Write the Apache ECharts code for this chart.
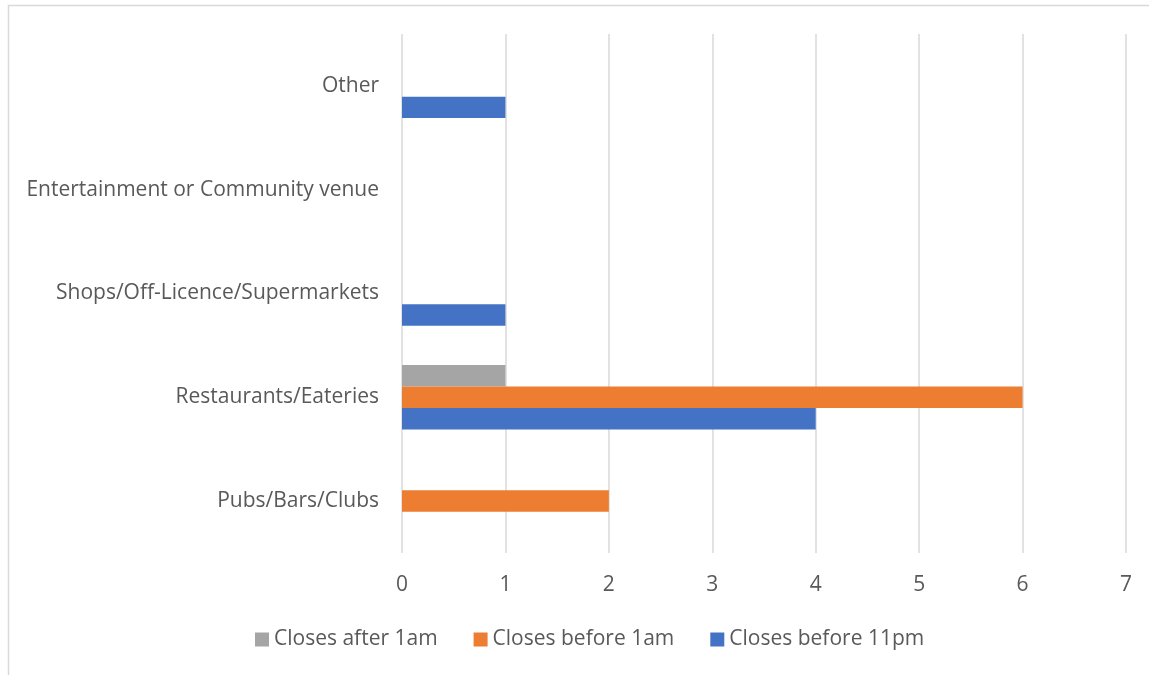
<!DOCTYPE html>
<html>
<head>
<meta charset="utf-8">
<style>
  html, body { margin: 0; padding: 0; background: #ffffff; }
  #chart { width: 1149px; height: 675px; }
</style>
<script src="https://cdn.jsdelivr.net/npm/echarts@6/dist/echarts.min.js"></script>
</head>
<body>
<div id="chart"></div>
<script>
// Venue categories, listed from the bottom of the axis upwards
const categories = [
  'Pubs/Bars/Clubs',
  'Restaurants/Eateries',
  'Shops/Off-Licence/Supermarkets',
  'Entertainment or Community venue',
  'Other'
];

// Number of venues by closing time
const closesAfter1am = [0, 1, 0, 0, 0];
const closesBefore1am = [2, 6, 0, 0, 0];
const closesBefore11pm = [0, 4, 1, 0, 1];

const seriesNames = ['Closes after 1am', 'Closes before 1am', 'Closes before 11pm'];
const seriesColors = ['#a5a5a5', '#ed7d31', '#4472c4'];
const seriesValues = [closesAfter1am, closesBefore1am, closesBefore11pm];

const FONT = 'Open Sans';
const FONT_SIZE = 21;
const TEXT_COLOR = '#595959';

const chart = echarts.init(document.getElementById('chart'), null, { renderer: 'canvas' });

const series = seriesNames.map((name, i) => ({
  name: name,
  type: 'bar',
  data: seriesValues[i],
  itemStyle: { color: seriesColors[i] },
  barGap: '0%',
  barCategoryGap: '38%',
  silent: true
}));

chart.setOption({
  animation: false,
  backgroundColor: '#ffffff',
  textStyle: { fontFamily: FONT },
  graphic: [{
    type: 'rect',
    shape: { x: 8.5, y: 5.5, width: 1160, height: 700 },
    style: { fill: 'none', stroke: '#d9d9d9', lineWidth: 1.5 },
    silent: true
  }],
  grid: { left: 402, right: 23, top: 34, bottom: 122, containLabel: false },
  legend: {
    data: seriesNames,
    left: 250,
    top: 624,
    itemWidth: 14,
    itemHeight: 14,
    itemGap: 36,
    icon: 'rect',
    textStyle: { color: TEXT_COLOR, fontSize: FONT_SIZE, fontFamily: FONT },
    selectedMode: false
  },
  xAxis: {
    type: 'value',
    min: 0,
    max: 7,
    interval: 1,
    axisLine: { show: false },
    axisTick: { show: false },
    axisLabel: { color: TEXT_COLOR, fontSize: FONT_SIZE, fontFamily: FONT, margin: 22 },
    splitLine: { show: true, lineStyle: { color: '#d9d9d9', width: 1.5 } }
  },
  yAxis: {
    type: 'category',
    data: categories,
    axisLine: { show: false },
    axisTick: { show: false },
    axisLabel: { color: TEXT_COLOR, fontSize: FONT_SIZE, fontFamily: FONT, margin: 23 },
    splitLine: { show: false }
  },
  series: series
});
</script>
</body>
</html>
